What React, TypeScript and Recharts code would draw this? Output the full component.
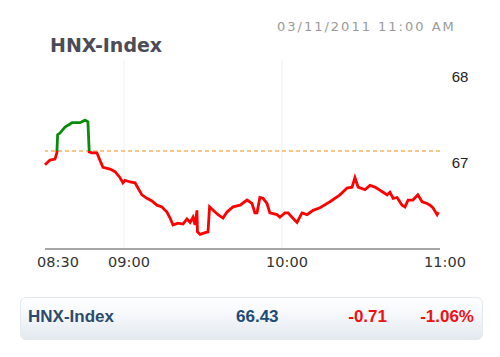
import React from "react";
import { LineChart, Line, XAxis, YAxis, ReferenceLine } from "recharts";

// minutes since midnight
const times: number[] = [
  510, 511.9, 513.8, 514.5, 514.8, 515.7, 517.6, 520.3, 523.3, 525.2, 526.3, 526.8,
  527.8, 529.7, 530.9, 532.0, 534.7, 536.6, 538.5, 539.6, 540.4, 542.3, 544.2, 545.3,
  546.8, 548.7, 550.6, 552.5, 554.4, 556.3, 557.5, 558.6, 560.5, 562.4, 563.9, 565.1,
  566.2, 567.0, 567.7, 567.9, 568.9, 570.8, 571.9, 572.5, 574.6, 575.7, 577.6, 579.1,
  581.4, 584.1, 586.7, 588.6, 589.7, 590.5, 591.6, 592.8, 594.3, 595.4, 598.1, 599.2,
  601.1, 602.3, 603.8, 605.7, 607.6, 609.5, 611.8, 614.4, 617.1, 618.2, 622.0, 624.7,
  626.6, 627.7, 628.9, 631.5, 633.4, 635.3, 638.4, 639.9, 641.0, 642.2, 643.7, 645.6,
  646.7, 647.9, 649.7, 651.6, 653.2, 655.1, 656.2, 657.3, 658.9, 659.4,
];
const values: number[] = [
  66.98, 67.035, 67.047, 67.12, 67.33, 67.35, 67.42, 67.47, 67.47, 67.5, 67.48, 67.13,
  67.12, 67.12, 67.03, 66.95, 66.93, 66.9, 66.83, 66.77, 66.8, 66.78, 66.77, 66.71,
  66.63, 66.59, 66.56, 66.51, 66.49, 66.43, 66.36, 66.28, 66.3, 66.29, 66.35, 66.31,
  66.37, 66.28, 66.45, 66.2, 66.17, 66.19, 66.2, 66.49, 66.43, 66.4, 66.36, 66.43,
  66.49, 66.51, 66.57, 66.53, 66.42, 66.42, 66.6, 66.59, 66.53, 66.42, 66.4, 66.37,
  66.42, 66.42, 66.37, 66.31, 66.42, 66.4, 66.45, 66.48, 66.53, 66.55, 66.63, 66.71,
  66.72, 66.83, 66.72, 66.69, 66.74, 66.72, 66.66, 66.63, 66.66, 66.59, 66.6, 66.51,
  66.49, 66.57, 66.57, 66.63, 66.55, 66.53, 66.51, 66.48, 66.4, 66.43,
];
const xTicks: number[] = [510, 540, 600, 660];
const gridTimes: number[] = [540, 600];
const yTicks: number[] = [67, 68];
const prevClose = 67.14;
const indexName = "HNX-Index";
const stamp = "03/11/2011 11:00 AM";
const lastValue = "66.43";
const change = "-0.71";
const changePct = "-1.06%";

const data = times.map((t, i) => ({ t, v: values[i] }));
const vMax = Math.max(...values);
const vMin = Math.min(...values);
const splitOffset = (vMax - prevClose) / (vMax - vMin);

const fmtTime = (m: number) => {
  const h = Math.floor(m / 60);
  const mm = Math.round(m % 60);
  return `${String(h).padStart(2, "0")}:${String(mm).padStart(2, "0")}`;
};

const XTick = (props: any) => {
  const { x, y, payload, index } = props;
  const dx = index === 0 ? 13 : 5;
  return (
    <text x={x + dx} y={y + 16} textAnchor="middle" fontFamily="DejaVu Sans" fontSize={14.5} fill="#333">
      {fmtTime(payload.value)}
    </text>
  );
};

const YTick = (props: any) => {
  const { x, y, payload } = props;
  return (
    <text x={x + 18} y={y + 5} textAnchor="middle" fontFamily="Liberation Sans" fontSize={15} fill="#222">
      {payload.value}
    </text>
  );
};

export default function App() {
  return (
    <div style={{ position: "absolute", left: 0, top: 0, width: 500, height: 357, background: "#fff", overflow: "hidden" }}>
      <div style={{ position: "absolute", left: 50, top: 33, fontFamily: "DejaVu Sans", fontWeight: "bold", fontSize: 19, color: "#4c4c58", lineHeight: "24px", whiteSpace: "nowrap" }}>
        {indexName}
      </div>
      <div style={{ position: "absolute", left: 277, top: 18, fontFamily: "DejaVu Sans", fontSize: 13, letterSpacing: 2, color: "#9a9a9a", lineHeight: "18px", whiteSpace: "nowrap" }}>
        {stamp}
      </div>
      <LineChart width={500} height={357} data={data} margin={{ top: 60, right: 0, bottom: 78, left: 45 }}>
        <defs>
          <linearGradient id="updown" x1="0" y1="0" x2="0" y2="1">
            <stop offset={0} stopColor="#0a8a0a" />
            <stop offset={splitOffset} stopColor="#0a8a0a" />
            <stop offset={splitOffset} stopColor="#ff0000" />
            <stop offset={1} stopColor="#ff0000" />
          </linearGradient>
        </defs>
        <XAxis
          dataKey="t"
          type="number"
          domain={[510, 660]}
          ticks={xTicks}
          height={30}
          tick={<XTick />}
          tickLine={false}
          tickSize={0}
          axisLine={{ stroke: "#a6a6a6", strokeWidth: 2 }}
        />
        <YAxis
          orientation="right"
          type="number"
          domain={[66, 68.2]}
          ticks={yTicks}
          width={60}
          tick={<YTick />}
          tickLine={false}
          tickSize={0}
          axisLine={false}
        />
        {gridTimes.map((g) => (
          <ReferenceLine key={g} x={g} stroke="#f0f0f0" strokeWidth={1} />
        ))}
        <ReferenceLine y={prevClose} stroke="#f3b566" strokeWidth={1.5} strokeDasharray="4 3" />
        <Line
          type="linear"
          dataKey="v"
          stroke="url(#updown)"
          strokeWidth={2.8}
          dot={false}
          isAnimationActive={false}
        />
      </LineChart>
      <div
        style={{
          position: "absolute",
          left: 20,
          top: 297,
          width: 463,
          height: 43,
          borderRadius: 6,
          background: "linear-gradient(#ffffff, #f4f7fa 45%, #e3e9ef)",
          border: "1px solid #e4e9ee",
          boxSizing: "border-box",
          fontFamily: "Liberation Sans",
          fontWeight: "bold",
          fontSize: 17,
        }}
      >
        <span style={{ position: "absolute", left: 7, top: 9, color: "#2e4a6b" }}>{indexName}</span>
        <span style={{ position: "absolute", left: 215, top: 9, color: "#1d4b78" }}>{lastValue}</span>
        <span style={{ position: "absolute", right: 95, top: 9, color: "#ee1111" }}>{change}</span>
        <span style={{ position: "absolute", right: 8, top: 9, color: "#ee1111" }}>{changePct}</span>
      </div>
    </div>
  );
}
